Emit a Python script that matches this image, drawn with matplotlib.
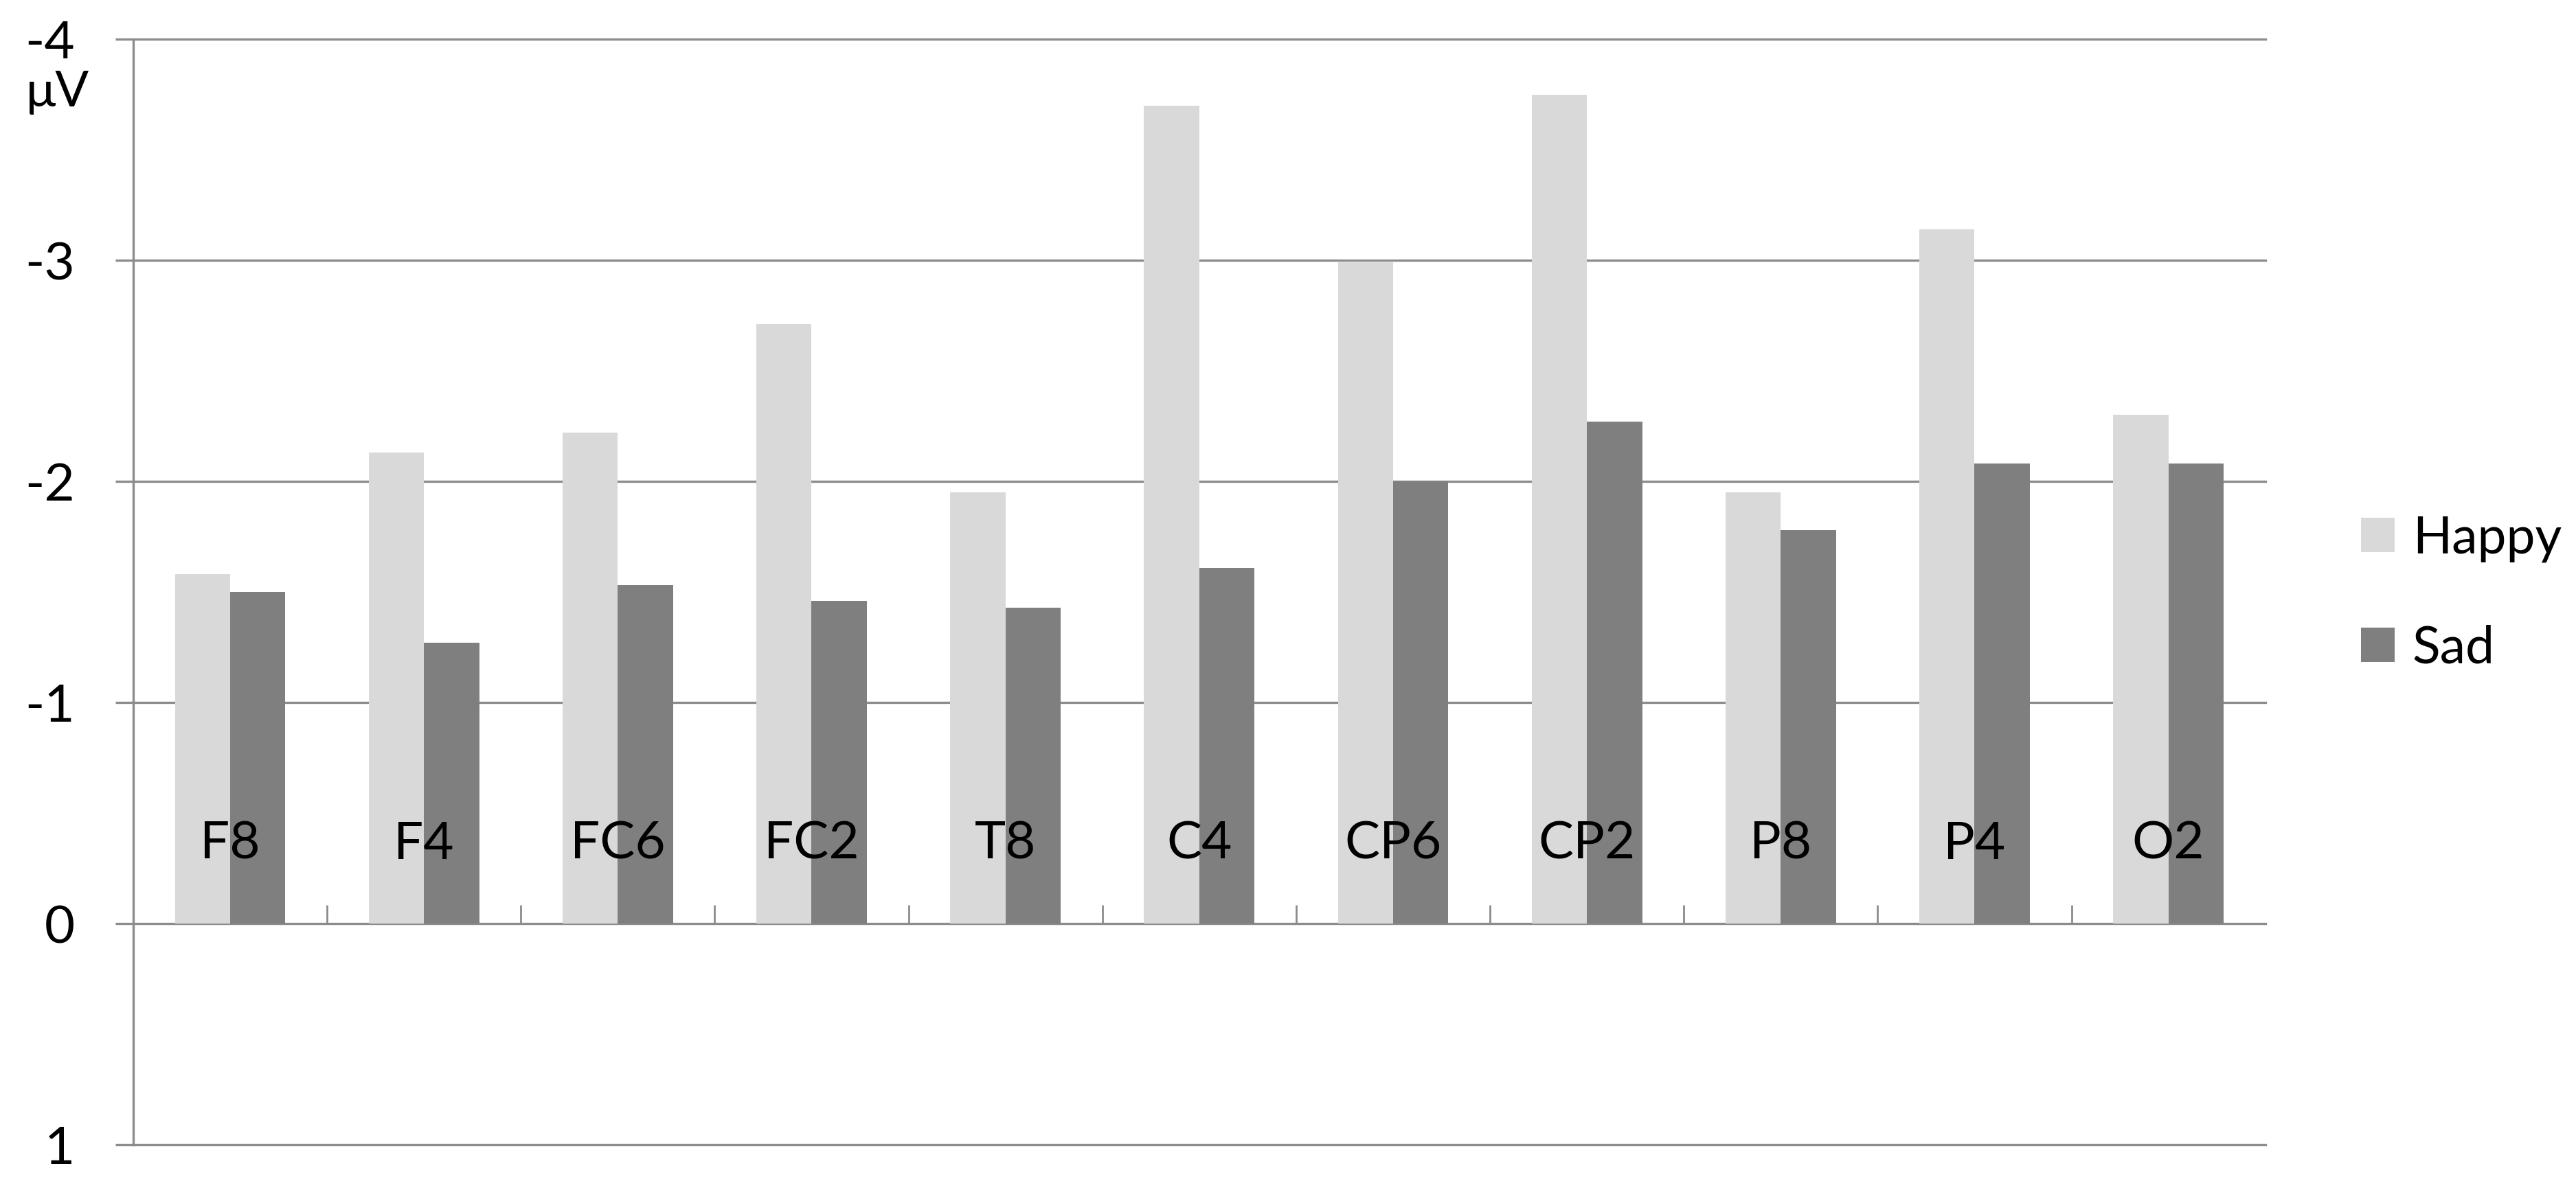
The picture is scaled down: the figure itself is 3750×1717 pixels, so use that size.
import numpy as np
import matplotlib.pyplot as plt
from matplotlib.transforms import blended_transform_factory

# electrode sites and mean amplitudes (uV)
channels = ["F8", "F4", "FC6", "FC2", "T8", "C4", "CP6", "CP2", "P8", "P4", "O2"]
happy = [-1.58, -2.13, -2.22, -2.71, -1.95, -3.70, -2.99, -3.75, -1.95, -3.14, -2.30]
sad = [-1.50, -1.27, -1.53, -1.46, -1.43, -1.61, -2.00, -2.27, -1.78, -2.08, -2.08]
y_ticks = [-4, -3, -2, -1, 0, 1]

plt.rcParams["font.family"] = ["Lato", "DejaVu Sans"]

GRID = "#8C8C8C"

fig = plt.figure(figsize=(37.5, 17.17), dpi=100, facecolor="white")
ax = fig.add_axes([0.0517, 0.0291, 0.8277, 0.9377])

x = np.arange(len(channels))
w = 0.285
ax.bar(x - w / 2, happy, w, color="#D9D9D9", label="Happy", zorder=2)
ax.bar(x + w / 2, sad, w, color="#7F7F7F", label="Sad", zorder=2)

ax.set_xlim(-0.5, len(channels) - 0.5)
ax.set_ylim(1, -4)

# horizontal gridlines (incl. the 0 axis and the frame lines)
for t in y_ticks:
    ax.axhline(t, color=GRID, lw=2.4, zorder=1, clip_on=False)

# category boundary ticks on the zero line, pointing up
ax.vlines(x[:-1] + 0.5, 0, -0.085, color=GRID, lw=2.0, zorder=1)

for s in ["top", "right", "bottom"]:
    ax.spines[s].set_visible(False)
ax.spines["left"].set_color(GRID)
ax.spines["left"].set_linewidth(2.4)

ax.set_xticks([])
ax.set_yticks(y_ticks)
ax.set_yticklabels([str(t) for t in y_ticks])
ax.tick_params(axis="y", length=19, width=2.4, color=GRID, pad=42,
               labelsize=55, labelcolor="black")

# channel names inside the plot just above zero
for xi, name in zip(x, channels):
    ax.text(xi, -0.36, name, ha="center", va="center", fontsize=55,
            color="black", zorder=3)

trans = blended_transform_factory(ax.transAxes, ax.transData)
ax.text(-0.0354, -3.76, "μV", transform=trans, ha="center", va="center",
        fontsize=52, color="black")

fig.legend(loc="center left", bbox_to_anchor=(3437 / 3750, 1 - 864 / 1717),
           frameon=False, fontsize=54, handlelength=0.65, handleheight=0.65,
           handletextpad=0.35, labelspacing=1.2, borderpad=0, borderaxespad=0)

fig.savefig("out.png", dpi=100, facecolor="white")
